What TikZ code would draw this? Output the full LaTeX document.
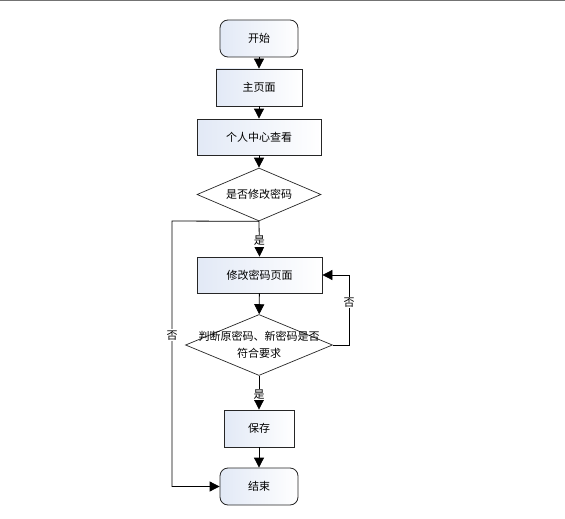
\documentclass[tikz,border=0pt]{standalone}
\usepackage{fontspec}
\newfontfamily\cjk{Noto Sans CJK SC}
\usetikzlibrary{arrows.meta,shapes.geometric}

\begin{document}
\begin{tikzpicture}[x=1pt,y=-1pt,
        box/.style={draw=black!85,line width=0.8pt,left color=box_left,right color=white,
            inner sep=0pt,font=\cjk\fontsize{11}{13}\selectfont},
        roundbox/.style={box,rounded corners=8pt},
        choice/.style={diamond,draw=black!85,line width=0.7pt,fill=white,inner sep=0pt},
        every label/.style={font=\cjk\fontsize{11}{17}\selectfont,align=center},
        arr/.style={line width=0.8pt,-{Triangle[length=10pt,width=10pt]}},
        lab/.style={fill=white,inner sep=1pt,font=\cjk\fontsize{11}{13}\selectfont}]

    \definecolor{box_left}{RGB}{226,233,246}

    \useasboundingbox (0,0) rectangle (565,519);
    \draw[black!55,line width=1.5pt] (0,0.75) -- (565,0.75);

    % boxes
    \node[roundbox,minimum width=78pt,minimum height=37pt] (start) at (259,38.5) {开始};
    \node[box,minimum width=86pt,minimum height=37pt] (home) at (259,87.5) {主页面};
    \node[box,minimum width=124pt,minimum height=36pt] (info) at (259,137) {个人中心查看};
    \node[choice,minimum width=124pt,minimum height=53pt,
        label={center:是否修改密码}] (ask) at (259,194.5) {};
    \node[box,minimum width=125pt,minimum height=36pt] (edit) at (259.5,275) {修改密码页面};
    \node[choice,minimum width=147pt,minimum height=61pt,
        label={center:判断原密码、新密码是否\\符合要求}] (check) at (259,345) {};
    \node[box,minimum width=70pt,minimum height=37pt] (save) at (259,428.5) {保存};
    \node[roundbox,minimum width=78pt,minimum height=37pt] (stop) at (259,486.5) {结束};

    \coordinate (lrail) at (172,221);
    \coordinate (rrail) at (349,345);

    % connectors
    \foreach \a/\b in {start/home, home/info, info/ask, edit/check, save/stop} {
            \draw[arr] (\a) -- (\b);
        }
    \draw[arr] (ask.south) -- node[lab,pos=0.55] {是} (edit.north);
    \draw[arr] (check.south) -- node[lab,pos=0.55] {是} (save.north);
    \draw[arr] (check.east) -- (rrail) -- node[lab,pos=0.61] {否} (rrail |- edit.east) -- (edit.east);
    \draw[arr] (ask.south) -- (lrail) -- node[lab,pos=0.43] {否} (lrail |- stop.west) -- (stop.west);
\end{tikzpicture}
\end{document}
